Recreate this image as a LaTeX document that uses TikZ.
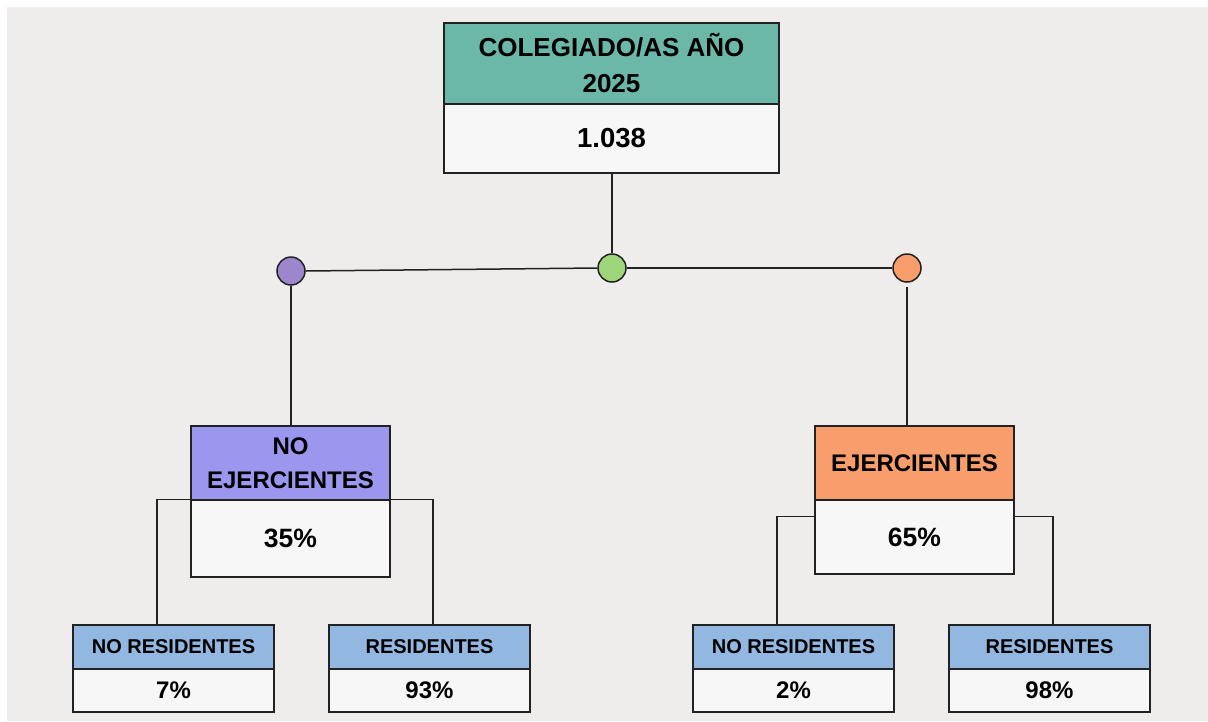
\documentclass[tikz,border=0pt]{standalone}
\usepackage{fontspec}
\setmainfont{Liberation Sans}
\definecolor{bg}{HTML}{EEEDEB}
\definecolor{bodyc}{HTML}{F7F7F7}
\definecolor{tealh}{HTML}{6BB8A9}
\definecolor{purh}{HTML}{9B97EE}
\definecolor{orah}{HTML}{F79E6C}
\definecolor{blueh}{HTML}{92B7E0}
\definecolor{purc}{HTML}{9C87CD}
\definecolor{grec}{HTML}{9DD67A}
\definecolor{orac}{HTML}{F79E6C}
\definecolor{edge}{HTML}{222222}
\tikzset{
  boxbase/.style={draw=edge, line width=1.5pt, rectangle, inner sep=0pt, align=center, font=\bfseries},
  bigbody/.style={boxbase, fill=bodyc, font=\bfseries\fontsize{26.5}{30}\selectfont},
  smallhdr/.style={boxbase, fill=blueh, minimum width=201, minimum height=44, font=\bfseries\fontsize{20}{24}\selectfont},
  smallbody/.style={boxbase, fill=bodyc, minimum width=201, minimum height=43, font=\bfseries\fontsize{24}{28}\selectfont},
  dot/.style={circle, draw=edge, line width=1.5pt, minimum size=28, inner sep=0pt},
  conn/.style={draw=edge, line width=1.5pt}
}
\begin{document}
\begin{tikzpicture}[x=1pt,y=-1pt]
\useasboundingbox (0,0) rectangle (1208,721);
\fill[bg] (7,7) rectangle (1208,721);
% top box
\node[boxbase, fill=tealh, minimum width=335, minimum height=81, font=\bfseries\fontsize{26}{36}\selectfont] (th) at (611.5,63.5) {COLEGIADO/AS AÑO\\2025};
\node[bigbody, minimum width=335, minimum height=69, font=\bfseries\fontsize{27.5}{30}\selectfont] (tb) at (611.5,138.5) {1.038};
% circles
\node[dot, fill=purc] (cp) at (291,271) {};
\node[dot, fill=grec] (cg) at (612,268) {};
\node[dot, fill=orac] (co) at (907,268) {};
% second level
\node[boxbase, fill=purh, minimum width=199, minimum height=74, font=\bfseries\fontsize{24}{34}\selectfont] (nh) at (290.5,463) {NO\\EJERCIENTES};
\node[bigbody, minimum width=199, minimum height=77] (nb) at (290.5,538.5) {35\%};
\node[boxbase, fill=orah, minimum width=199, minimum height=74, font=\bfseries\fontsize{24}{30}\selectfont] (eh) at (914.5,463) {EJERCIENTES};
\node[bigbody, minimum width=199, minimum height=74] (eb) at (914.5,537) {65\%};
% bottom level
\node[smallhdr] (lnrh) at (173.5,647) {NO RESIDENTES};
\node[smallbody] (lnrb) at (173.5,690.5) {7\%};
\node[smallhdr] (lrh) at (429.5,647) {RESIDENTES};
\node[smallbody] (lrb) at (429.5,690.5) {93\%};
\node[smallhdr] (rnrh) at (793.5,647) {NO RESIDENTES};
\node[smallbody] (rnrb) at (793.5,690.5) {2\%};
\node[smallhdr] (rrh) at (1049.5,647) {RESIDENTES};
\node[smallbody] (rrb) at (1049.5,690.5) {98\%};
% connectors
\draw[conn] (tb.south -| cg) -- (cg.north);
\draw[conn] (cp.east) -- (cg.west);
\draw[conn] (cg.east) -- (co.west);
\draw[conn] (cp.south) -- (cp |- nh.north);
\draw[conn] ([yshift=-4]co.south) -- (co |- nh.north);
\draw[conn] (nb.north west) -| ([xshift=-16.5]lnrh.north);
\draw[conn] (nb.north east) -| ([xshift=3.5]lrh.north);
\draw[conn] ([yshift=-17]eb.north west) -| ([xshift=-16.5]rnrh.north);
\draw[conn] ([yshift=-17]eb.north east) -| ([xshift=3.5]rrh.north);
\end{tikzpicture}
\end{document}
